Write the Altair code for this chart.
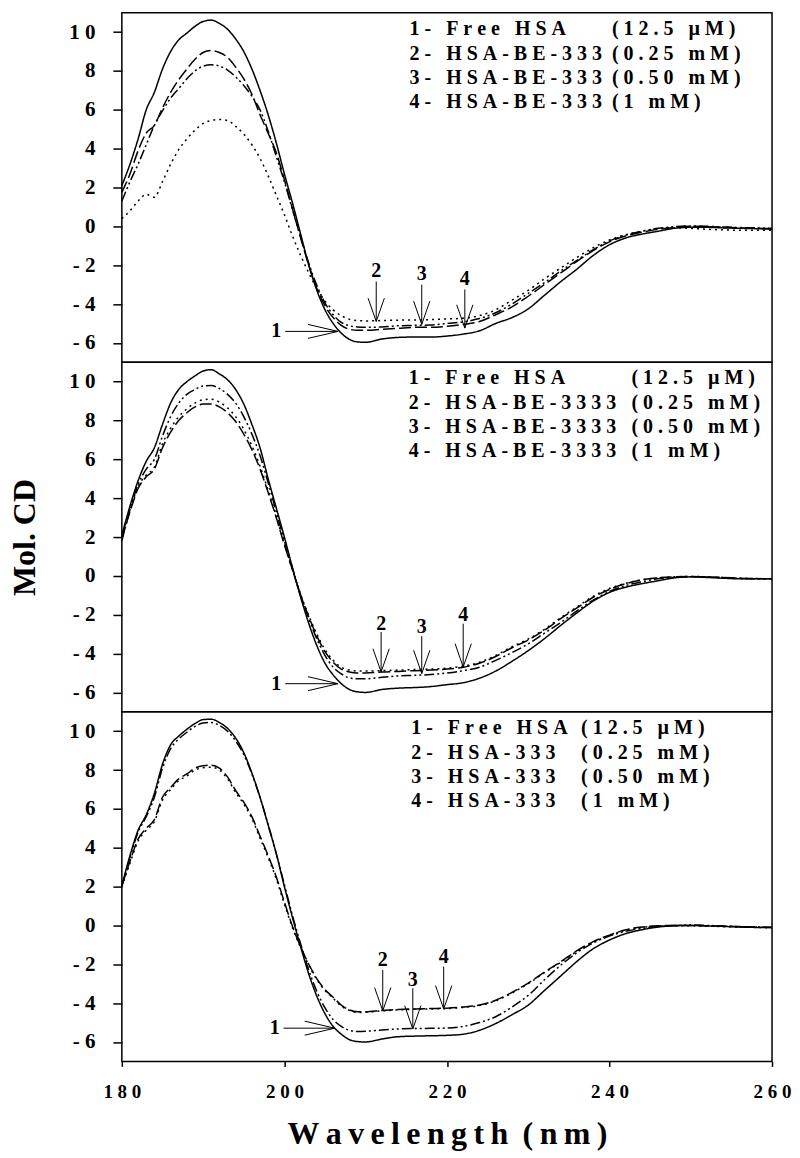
import altair as alt
import pandas as pd

# ---------------- data ----------------
wl = [180, 181, 182, 183, 184, 185, 186, 187, 188, 189, 190, 191, 192, 193, 194, 195, 196, 197, 198, 199,
      200, 201, 202, 203, 204, 205, 206, 207, 208, 209, 210, 212, 214, 216, 218, 220, 222, 224, 226, 228,
      230, 232, 234, 236, 238, 240, 242, 244, 246, 248, 250, 252, 254, 256, 258, 260]

series = ["1", "2", "3", "4"]

# Panel 1 (HSA-BE-333)
p1_c1 = [2.1, 3.2, 4.5, 6.0, 6.9, 8.1, 9.0, 9.6, 9.95, 10.3, 10.55, 10.62, 10.45, 10.15, 9.65, 9.0, 8.1, 7.0, 5.75, 4.3,
         2.7, 1.2, -0.4, -2.0, -3.3, -4.3, -5.0, -5.5, -5.82, -5.95, -5.97, -5.8, -5.72, -5.7, -5.7, -5.65, -5.55, -5.38, -5.0, -4.7,
         -4.25, -3.55, -2.85, -2.2, -1.5, -0.95, -0.6, -0.4, -0.25, -0.1, -0.05, -0.05, -0.08, -0.1, -0.12, -0.15]
p1_c2 = [1.75, 2.7, 3.9, 4.8, 5.2, 6.1, 6.9, 7.55, 8.1, 8.6, 8.95, 9.05, 8.95, 8.7, 8.2, 7.6, 6.8, 5.75, 4.8, 3.8,
         2.4, 0.9, -0.6, -2.0, -3.2, -4.1, -4.7, -5.1, -5.3, -5.35, -5.35, -5.3, -5.25, -5.2, -5.2, -5.15, -5.05, -4.9, -4.55, -4.15,
         -3.6, -3.0, -2.4, -1.8, -1.25, -0.8, -0.5, -0.3, -0.15, -0.05, 0.0, -0.02, -0.05, -0.08, -0.1, -0.12]
p1_c3 = [1.3, 2.3, 3.2, 4.2, 5.2, 5.95, 6.6, 7.1, 7.6, 8.0, 8.25, 8.32, 8.25, 8.05, 7.7, 7.25, 6.7, 6.0, 4.9, 3.6,
         2.3, 0.85, -0.55, -1.9, -3.05, -3.95, -4.55, -4.95, -5.12, -5.18, -5.2, -5.18, -5.12, -5.1, -5.08, -5.0, -4.92, -4.75, -4.45, -4.0,
         -3.45, -2.9, -2.3, -1.75, -1.2, -0.75, -0.45, -0.25, -0.1, -0.02, 0.02, 0.0, -0.03, -0.06, -0.08, -0.1]
p1_c4 = [0.4, 0.8, 1.3, 1.65, 1.5, 2.3, 3.2, 3.95, 4.5, 4.95, 5.3, 5.45, 5.5, 5.45, 5.15, 4.75, 4.2, 3.5, 2.6, 1.6,
         0.6, -0.5, -1.5, -2.4, -3.2, -3.85, -4.3, -4.6, -4.78, -4.85, -4.87, -4.85, -4.83, -4.82, -4.8, -4.77, -4.73, -4.6, -4.3, -3.8,
         -3.3, -2.7, -2.15, -1.6, -1.1, -0.7, -0.43, -0.25, -0.12, -0.08, -0.1, -0.15, -0.18, -0.2, -0.2, -0.2]

# Panel 2 (HSA-BE-3333)
p2_c1 = [2.1, 3.6, 4.9, 5.9, 6.6, 7.8, 8.9, 9.6, 10.0, 10.3, 10.55, 10.62, 10.4, 10.1, 9.6, 8.85, 7.8, 6.6, 5.0, 3.5,
         2.0, 0.4, -1.1, -2.45, -3.6, -4.5, -5.1, -5.55, -5.85, -5.97, -6.0, -5.85, -5.78, -5.75, -5.7, -5.6, -5.5, -5.27, -4.9, -4.4,
         -3.85, -3.23, -2.55, -1.9, -1.3, -0.85, -0.58, -0.4, -0.25, -0.1, -0.05, -0.08, -0.12, -0.15, -0.15, -0.15]
p2_c2 = [1.9, 3.3, 4.5, 5.1, 5.5, 6.6, 7.4, 8.0, 8.4, 8.7, 8.85, 8.85, 8.7, 8.4, 7.95, 7.3, 6.5, 5.5, 4.3, 3.0,
         1.6, 0.3, -1.0, -2.1, -3.1, -3.9, -4.45, -4.8, -4.95, -5.0, -5.0, -4.95, -4.92, -4.88, -4.85, -4.8, -4.7, -4.5, -4.15, -3.7,
         -3.3, -2.8, -2.2, -1.65, -1.1, -0.7, -0.4, -0.2, -0.1, -0.05, -0.03, -0.05, -0.08, -0.12, -0.14, -0.15]
p2_c3 = [1.8, 3.4, 4.7, 5.5, 6.0, 7.2, 8.2, 8.9, 9.35, 9.6, 9.78, 9.8, 9.65, 9.35, 8.9, 8.2, 7.3, 6.2, 4.8, 3.3,
         1.8, 0.4, -1.0, -2.2, -3.25, -4.1, -4.7, -5.05, -5.25, -5.3, -5.3, -5.22, -5.15, -5.12, -5.08, -5.0, -4.88, -4.7, -4.35, -3.95,
         -3.5, -2.95, -2.4, -1.8, -1.25, -0.8, -0.5, -0.3, -0.15, -0.08, -0.04, -0.06, -0.1, -0.13, -0.15, -0.15]
p2_c4 = [2.0, 3.4, 4.6, 5.2, 5.6, 6.8, 7.6, 8.2, 8.6, 8.9, 9.07, 9.1, 8.95, 8.65, 8.2, 7.55, 6.7, 5.65, 4.4, 3.05,
         1.65, 0.3, -0.95, -2.05, -3.0, -3.8, -4.35, -4.7, -4.85, -4.9, -4.9, -4.88, -4.85, -4.82, -4.8, -4.75, -4.65, -4.45, -4.1, -3.65,
         -3.25, -2.75, -2.15, -1.6, -1.05, -0.65, -0.38, -0.2, -0.1, -0.05, -0.03, -0.05, -0.08, -0.12, -0.14, -0.15]

# Panel 3 (HSA-333)
p3_c1 = [2.05, 3.6, 4.9, 5.7, 6.8, 8.3, 9.3, 9.75, 10.1, 10.4, 10.6, 10.62, 10.45, 10.15, 9.65, 8.9, 7.85, 6.6, 5.17, 3.7,
         2.0, 0.4, -1.1, -2.5, -3.65, -4.55, -5.2, -5.6, -5.88, -5.98, -6.0, -5.85, -5.73, -5.7, -5.68, -5.66, -5.6, -5.4, -5.05, -4.6,
         -4.1, -3.35, -2.6, -1.85, -1.2, -0.75, -0.42, -0.22, -0.08, -0.02, 0.0, -0.02, -0.05, -0.08, -0.1, -0.1]
p3_c2 = [2.05, 3.3, 4.45, 5.0, 5.45, 6.6, 7.1, 7.55, 7.8, 8.1, 8.22, 8.25, 8.1, 7.65, 6.95, 6.35, 5.6, 4.6, 3.6, 2.5,
         1.2, -0.05, -1.1, -2.0, -2.75, -3.3, -3.7, -4.1, -4.35, -4.45, -4.45, -4.38, -4.33, -4.3, -4.28, -4.26, -4.2, -4.1, -3.85, -3.45,
         -2.97, -2.4, -1.87, -1.3, -0.83, -0.5, -0.22, -0.08, -0.02, 0.0, 0.0, -0.02, -0.04, -0.06, -0.08, -0.1]
p3_c3 = [2.0, 3.5, 4.8, 5.6, 6.6, 8.1, 9.1, 9.6, 9.95, 10.25, 10.42, 10.45, 10.3, 10.0, 9.5, 8.8, 7.8, 6.6, 5.2, 3.7,
         2.1, 0.5, -0.95, -2.3, -3.4, -4.25, -4.85, -5.2, -5.4, -5.46, -5.45, -5.38, -5.33, -5.31, -5.3, -5.28, -5.2, -5.0, -4.7, -4.2,
         -3.6, -2.8, -2.05, -1.4, -0.9, -0.55, -0.3, -0.15, -0.05, 0.0, 0.02, 0.0, -0.03, -0.06, -0.08, -0.1]
p3_c4 = [2.0, 3.2, 4.35, 4.9, 5.35, 6.45, 7.0, 7.45, 7.7, 8.0, 8.12, 8.15, 8.0, 7.55, 6.85, 6.25, 5.5, 4.5, 3.5, 2.4,
         1.1, -0.12, -1.15, -2.05, -2.8, -3.35, -3.75, -4.15, -4.38, -4.48, -4.47, -4.4, -4.35, -4.32, -4.3, -4.28, -4.22, -4.12, -3.88, -3.48,
         -3.0, -2.43, -1.9, -1.33, -0.86, -0.52, -0.24, -0.1, -0.04, -0.02, -0.02, -0.04, -0.06, -0.08, -0.1, -0.12]

p1_names = ["1- Free HSA", "2- HSA-BE-333", "3- HSA-BE-333", "4- HSA-BE-333"]
p2_names = ["1- Free HSA", "2- HSA-BE-3333", "3- HSA-BE-3333", "4- HSA-BE-3333"]
p3_names = ["1- Free HSA", "2- HSA-333", "3- HSA-333", "4- HSA-333"]
concs = ["(12.5 µM)", "(0.25 mM)", "(0.50 mM)", "(1 mM)"]

legend_col1_x = [215.4, 215.3, 215.6]
legend_col2_x = [240.3, 242.7, 236.5]
legend_y = [10.18, 8.89, 7.66, 6.42]

# arrow "1": label x, label/shaft y, shaft start x, tip x
arrow1 = [(199.0, -5.41, 200.1, 206.6), (199.0, -5.55, 200.1, 206.6), (198.8, -5.29, 199.9, 206.2)]
# arrows 2-4: (x, label y, shaft top y, tip y)
arrows = [
    [(211.3, -2.32, -2.84, -4.9), (216.9, -2.48, -3.0, -5.05), (222.2, -2.73, -3.25, -5.24)],
    [(211.9, -2.46, -2.89, -4.95), (216.9, -2.63, -3.1, -5.03), (222.0, -2.03, -2.46, -4.69)],
    [(212.1, -1.77, -2.29, -4.4), (215.8, -2.8, -3.23, -5.33), (219.6, -1.6, -2.12, -4.3)],
]

y_ticks = [-6, -4, -2, 0, 2, 4, 6, 8, 10]
x_ticks = [180, 200, 220, 240, 260]

FONT = "Liberation Serif"
TS = "\u2009"   # thin space
QS = "\u2005"   # four-per-em space


def spaced(s, sep=TS):
    return sep.join(s)


dash_range = [[1, 0], [12, 4], [10, 3, 2, 3, 2, 3], [2, 4]]


def make_panel(i, curves, names, show_x, show_title):
    rows = []
    for s, vals in zip(series, curves):
        for w, v in zip(wl, vals):
            rows.append({"wl": w, "cd": v, "series": s})
    df = pd.DataFrame(rows)

    if show_x:
        xaxis = alt.Axis(values=x_ticks, tickSize=5, tickWidth=1.5, tickColor="black", domain=False, grid=False,
                         labelFont=FONT, labelFontSize=19, labelFontWeight="bold", labelColor="black",
                         labelFlush=False, labelPadding=16,
                         labelExpr="join(split(toString(datum.value), ''), ' ')",
                         title=spaced("Wavelength") + " " + TS + spaced("(nm)"),
                         titleFont=FONT, titleFontSize=32, titleFontWeight="bold", titleColor="black",
                         titleBaseline="alphabetic", titleY=82)
        xenc = alt.X("wl:Q", scale=alt.Scale(domain=[180, 260], nice=False, zero=False), axis=xaxis)
    else:
        xenc = alt.X("wl:Q", scale=alt.Scale(domain=[180, 260], nice=False, zero=False), axis=None)

    yaxis_kw = dict(values=y_ticks, tickSize=9, tickWidth=1.5, tickColor="black", domain=False, grid=False,
                    labelFont=FONT, labelFontSize=21, labelFontWeight="bold", labelColor="black",
                    labelPadding=18, labelExpr="join(split(toString(datum.value), ''), ' ')")
    if show_title:
        yaxis = alt.Axis(title="Mol. CD", titleFont=FONT, titleFontSize=32, titleFontWeight="bold",
                         titleColor="black", titleX=-87, titleY=175, titleAngle=-90,
                         titleBaseline="alphabetic", titleAlign="center", **yaxis_kw)
    else:
        yaxis = alt.Axis(title="", **yaxis_kw)
    yenc = alt.Y("cd:Q", scale=alt.Scale(domain=[-7, 11], nice=False, zero=False), axis=yaxis)

    lines = alt.Chart(df).mark_line(color="black", strokeWidth=1.5, interpolate="monotone").encode(
        x=xenc, y=yenc,
        strokeDash=alt.StrokeDash("series:N", scale=alt.Scale(domain=series, range=dash_range), legend=None),
    )

    leg1 = pd.DataFrame({"wl": [legend_col1_x[i]] * 4, "cd": legend_y, "t": [spaced(n, QS) for n in names]})
    leg2 = pd.DataFrame({"wl": [legend_col2_x[i]] * 4, "cd": legend_y, "t": [spaced(c, QS) for c in concs]})
    tkw = dict(font=FONT, fontSize=20, fontWeight="bold", color="black", align="left", baseline="middle")
    t1 = alt.Chart(leg1).mark_text(**tkw).encode(x=xenc, y=yenc, text="t:N")
    t2 = alt.Chart(leg2).mark_text(**tkw).encode(x=xenc, y=yenc, text="t:N")

    # arrows
    segs = []
    labs = []
    lx, ly, sx, tx = arrow1[i]
    labs.append({"wl": lx, "cd": ly, "t": "1"})
    segs.append({"wl": sx, "cd": ly, "wl2": tx, "cd2": ly})
    segs.append({"wl": tx - 3.7, "cd": ly + 0.36, "wl2": tx, "cd2": ly})
    segs.append({"wl": tx - 3.7, "cd": ly - 0.36, "wl2": tx, "cd2": ly})
    for k, (ax, aly, top, tip) in enumerate(arrows[i]):
        labs.append({"wl": ax, "cd": aly, "t": str(k + 2)})
        segs.append({"wl": ax, "cd": top, "wl2": ax, "cd2": tip})
        segs.append({"wl": ax - 1.0, "cd": tip + 1.2, "wl2": ax, "cd2": tip})
        segs.append({"wl": ax + 1.0, "cd": tip + 1.2, "wl2": ax, "cd2": tip})
    sdf = pd.DataFrame(segs)
    ldf = pd.DataFrame(labs)
    rules = alt.Chart(sdf).mark_rule(color="black", strokeWidth=1).encode(
        x=xenc, y=yenc, x2=alt.X2("wl2:Q"), y2=alt.Y2("cd2:Q"))
    alabels = alt.Chart(ldf).mark_text(font=FONT, fontSize=20, fontWeight="bold", color="black",
                                       align="center", baseline="middle").encode(x=xenc, y=yenc, text="t:N")

    return alt.layer(lines, t1, t2, rules, alabels).properties(width=651, height=350)


p1 = make_panel(0, [p1_c1, p1_c2, p1_c3, p1_c4], p1_names, False, False)
p2 = make_panel(1, [p2_c1, p2_c2, p2_c3, p2_c4], p2_names, False, True)
p3 = make_panel(2, [p3_c1, p3_c2, p3_c3, p3_c4], p3_names, True, False)

chart = alt.vconcat(p1, p2, p3, spacing=0, bounds="flush").properties(
    padding={"left": 0, "top": 3, "right": 0, "bottom": 0}
).configure_view(stroke="black", strokeWidth=1.5)

chart.save("out.html", embed_options={"renderer": "svg", "actions": False})
